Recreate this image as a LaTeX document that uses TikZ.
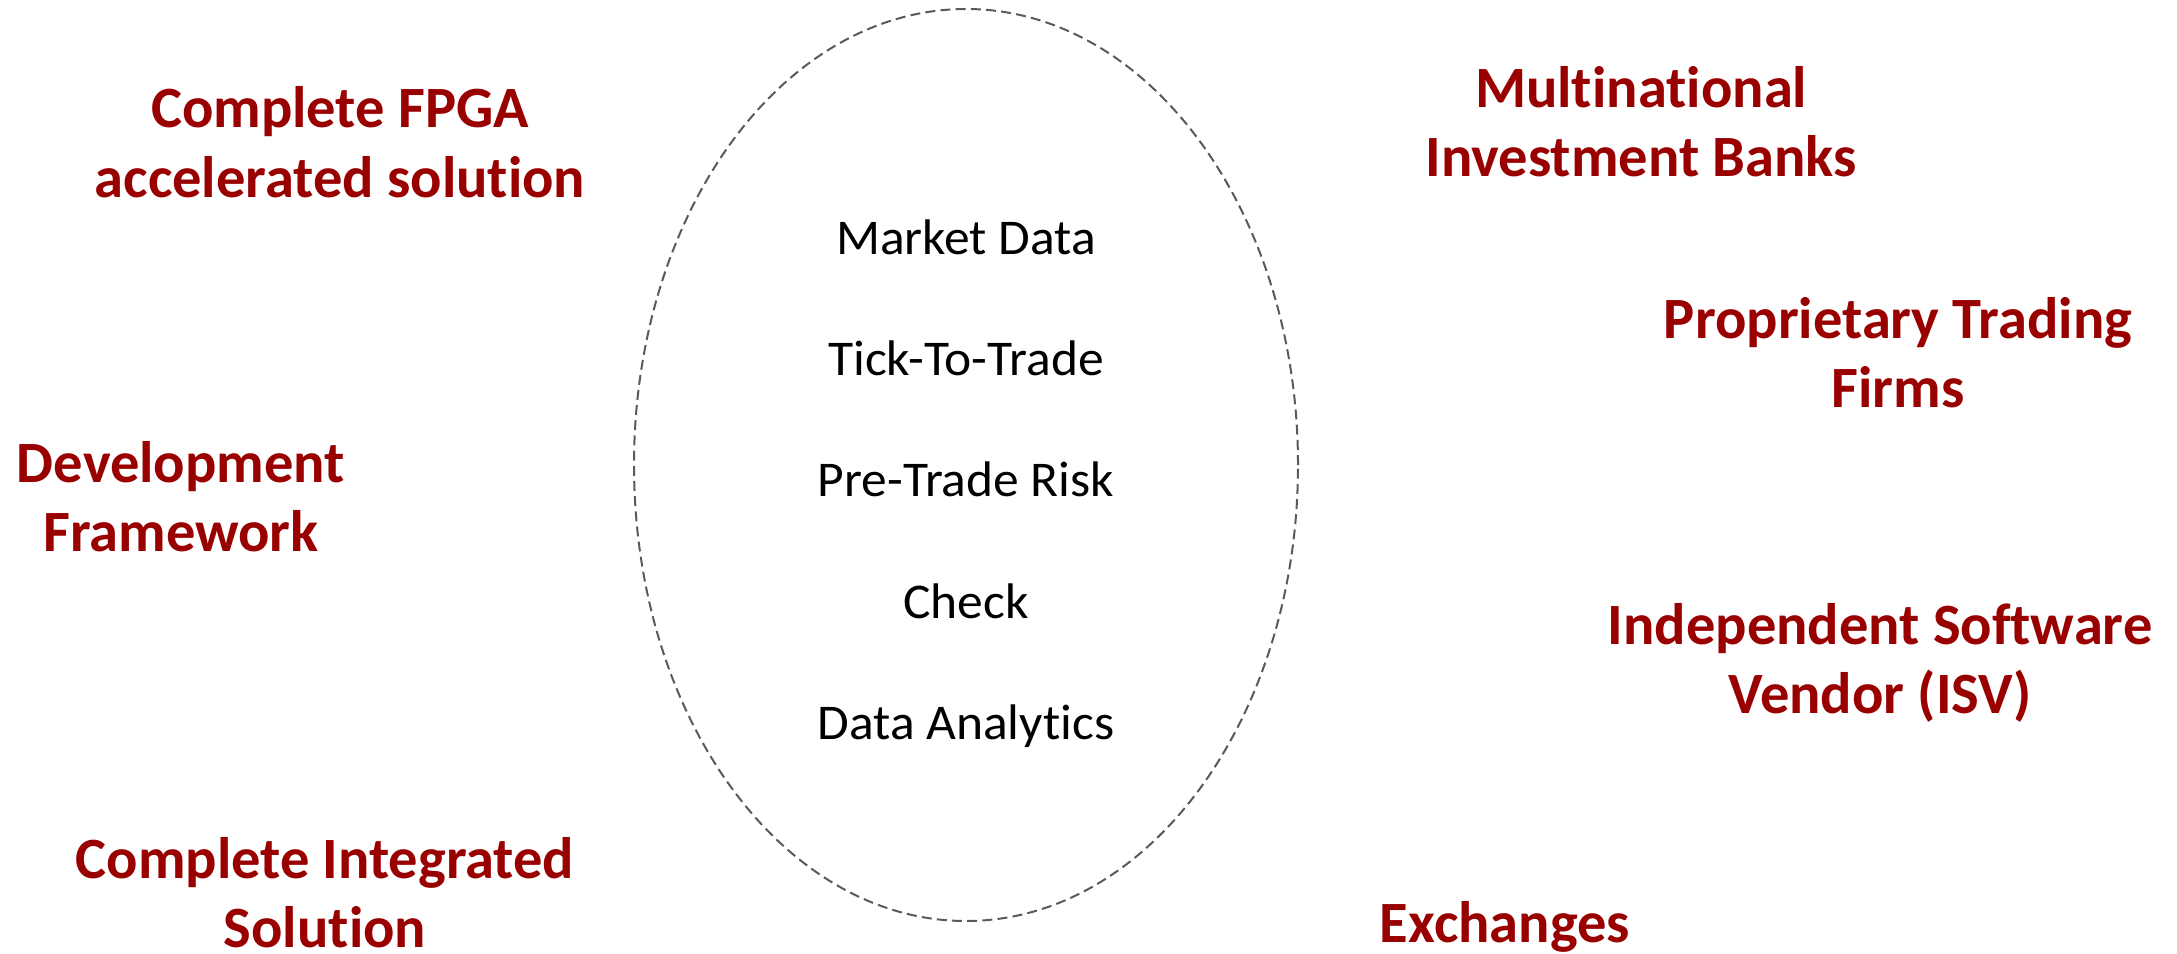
\documentclass[tikz,border=0pt]{standalone}
\usepackage{fontspec}
\setmainfont{Carlito}[Ligatures=NoCommon]
\usetikzlibrary{shapes.geometric}
\definecolor{darkred}{HTML}{990000}
\definecolor{dashgray}{HTML}{5A5A5A}
\tikzset{
  redlabel/.style={anchor=base, text=darkred, font=\fontsize{29.25}{35}\selectfont\bfseries, inner sep=0pt},
  item/.style={anchor=base, text=black, font=\fontsize{25}{30}\selectfont, inner sep=0pt},
  oval/.style={ellipse, draw=dashgray, line width=1pt, dash pattern=on 5pt off 2.6pt, inner sep=0pt}
}
\begin{document}
\begin{tikzpicture}[x=0.5pt, y=-0.5pt]
\useasboundingbox (0,0) rectangle (2177,953);
\node[oval, minimum width=332pt, minimum height=456pt] (circle) at (966,465) {};
% items inside the oval
\node[item, xscale=1.03] (md) at (966,254) {Market Data};
\node[item, xscale=1.03] (ttt) at (966,375) {Tick-To-Trade};
\node[item, xscale=1.03] (ptr) at (966,496) {Pre-Trade Risk};
\node[item, xscale=1.03] (chk) at (966,618) {Check};
\node[item, xscale=1.03] (da) at (966,739) {Data Analytics};
% left labels
\node[redlabel] (fpgaA) at (340,127) {Complete FPGA};
\node[redlabel] (fpgaB) at (340,197) {accelerated solution};
\node[redlabel] (devA) at (181,482) {Development};
\node[redlabel] (devB) at (181,551) {Framework};
\node[redlabel] (intA) at (325,878) {Complete Integrated};
\node[redlabel] (intB) at (325,947) {Solution};
% right labels
\node[redlabel] (mibA) at (1641,107) {Multinational};
\node[redlabel] (mibB) at (1641,176) {Investment Banks};
\node[redlabel] (ptfA) at (1898,338) {Proprietary Trading};
\node[redlabel] (ptfB) at (1898,407) {Firms};
\node[redlabel] (isvA) at (1880,644) {Independent Software};
\node[redlabel] (isvB) at (1880,713) {Vendor (ISV)};
\node[redlabel] (exch) at (1505,942) {Exchanges};
\end{tikzpicture}
\end{document}
